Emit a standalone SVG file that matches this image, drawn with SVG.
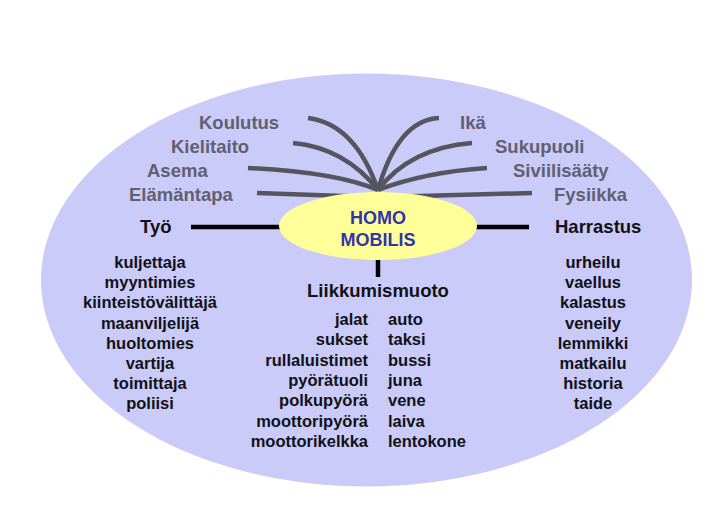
<svg xmlns="http://www.w3.org/2000/svg" width="707" height="518" viewBox="0 0 707 518">
<style>
text{font-family:"Liberation Sans",Arial,sans-serif;font-weight:bold}
.g{fill:#606070;font-size:18.5px}
.h{fill:#111118;font-size:18.5px}
.b{fill:#111118;font-size:16.5px}
.c{text-anchor:middle}
.r{text-anchor:end}
.gl{fill:none;stroke:#555560;stroke-width:4.5;stroke-linecap:butt}
.bl{fill:none;stroke:#000;stroke-width:4.5}
</style>
<rect width="707" height="518" fill="#fff"/>
<ellipse id="bg" cx="366.5" cy="280" rx="325.5" ry="206.5" fill="#cbcbf9"/>
<g id="connectors">
<path class="gl" d="M308,118 Q355,124 378,190"/>
<path class="gl" d="M293,143 Q345,148 378,190"/>
<path class="gl" d="M248,168 Q335,172 378,190"/>
<path class="gl" d="M257,193 L372,197"/>
<path class="gl" d="M439,118 Q398,120 378,190"/>
<path class="gl" d="M472,143 Q410,148 378,190"/>
<path class="gl" d="M487,168 Q425,172 378,190"/>
<path class="gl" d="M532,193 L384,197"/>
<line class="bl" x1="191" y1="227" x2="284" y2="227"/>
<line class="bl" x1="474" y1="227" x2="529" y2="227"/>
<line class="bl" x1="378" y1="255" x2="378" y2="277"/>
</g>
<g id="homo-mobilis">
<ellipse cx="378" cy="226" rx="99" ry="34" fill="#ffff99"/>
<text x="378" y="224" class="c" font-size="18" fill="#3333aa">HOMO</text>
<text x="378" y="246" class="c" font-size="18" fill="#3333aa">MOBILIS</text>
</g>
<g id="koulutus"><text x="199" y="129" class="g">Koulutus</text></g>
<g id="kielitaito"><text x="171" y="153" class="g">Kielitaito</text></g>
<g id="asema"><text x="147" y="177" class="g">Asema</text></g>
<g id="elamantapa"><text x="129" y="201" class="g">Elämäntapa</text></g>
<g id="ika"><text x="460" y="129" class="g">Ikä</text></g>
<g id="sukupuoli"><text x="495" y="153" class="g">Sukupuoli</text></g>
<g id="siviilisaaty"><text x="513" y="177" class="g">Siviilisääty</text></g>
<g id="fysiikka"><text x="554" y="201" class="g">Fysiikka</text></g>
<g id="tyo">
<text x="140" y="233" class="h">Työ</text>
<g class="b">
<text x="150" y="268" class="b c">kuljettaja</text>
<text x="150" y="288.2" class="b c">myyntimies</text>
<text x="150" y="308.4" class="b c">kiinteistövälittäjä</text>
<text x="150" y="328.6" class="b c">maanviljelijä</text>
<text x="150" y="348.8" class="b c">huoltomies</text>
<text x="150" y="369" class="b c">vartija</text>
<text x="150" y="389.2" class="b c">toimittaja</text>
<text x="150" y="409.4" class="b c">poliisi</text>
</g>
</g>
<g id="harrastus">
<text x="555" y="233" class="h">Harrastus</text>
<text x="593" y="268" class="b c">urheilu</text>
<text x="593" y="288.2" class="b c">vaellus</text>
<text x="593" y="308.4" class="b c">kalastus</text>
<text x="593" y="328.6" class="b c">veneily</text>
<text x="593" y="348.8" class="b c">lemmikki</text>
<text x="593" y="369" class="b c">matkailu</text>
<text x="593" y="389.2" class="b c">historia</text>
<text x="593" y="409.4" class="b c">taide</text>
</g>
<g id="liikkumismuoto">
<text x="378" y="297" class="h c">Liikkumismuoto</text>
<text x="368" y="325" class="b r">jalat</text>
<text x="368" y="345.3" class="b r">sukset</text>
<text x="368" y="365.6" class="b r">rullaluistimet</text>
<text x="368" y="385.9" class="b r">pyörätuoli</text>
<text x="368" y="406.2" class="b r">polkupyörä</text>
<text x="368" y="426.5" class="b r">moottoripyörä</text>
<text x="368" y="446.8" class="b r">moottorikelkka</text>
<text x="388" y="325" class="b">auto</text>
<text x="388" y="345.3" class="b">taksi</text>
<text x="388" y="365.6" class="b">bussi</text>
<text x="388" y="385.9" class="b">juna</text>
<text x="388" y="406.2" class="b">vene</text>
<text x="388" y="426.5" class="b">laiva</text>
<text x="388" y="446.8" class="b">lentokone</text>
</g>
</svg>
